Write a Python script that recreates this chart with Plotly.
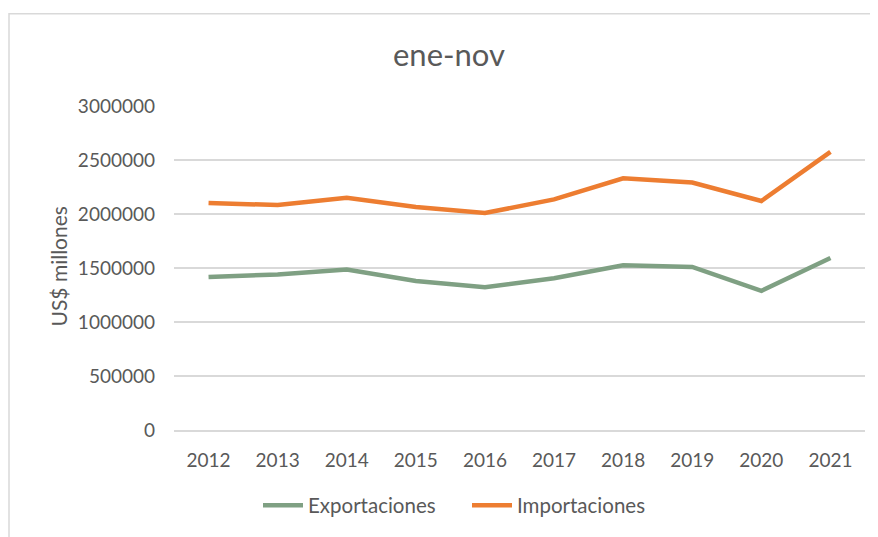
import plotly.graph_objects as go

years = ["2012", "2013", "2014", "2015", "2016", "2017", "2018", "2019", "2020", "2021"]
exportaciones = [1416000, 1440000, 1485000, 1380000, 1323000, 1405000, 1526000, 1510000, 1288000, 1593000]
importaciones = [2101000, 2083000, 2150000, 2064000, 2009000, 2135000, 2330000, 2292000, 2120000, 2575000]
y_ticks = [0, 500000, 1000000, 1500000, 2000000, 2500000, 3000000]

text_color = "#595959"
font_family = "Lato, 'Open Sans', sans-serif"

# page offset (browser body margin) compensation
OX, OY = 8, 8
W, H = 878 - OX, 537 - OY
L, R_EDGE, T, B = 174 - OX, 865 - OX, 106 - OY, 433 - OY
PW, PH = R_EDGE - L, B - T

def px_x(x):
    return (x - OX - L) / PW

def px_y(y):
    return (B - (y - OY)) / PH

fig = go.Figure()
fig.add_trace(go.Scatter(x=years, y=exportaciones, mode="lines", name="Exportaciones",
                         line=dict(color="#7FA083", width=4.5)))
fig.add_trace(go.Scatter(x=years, y=importaciones, mode="lines", name="Importaciones",
                         line=dict(color="#ED7D31", width=4.5)))

fig.update_layout(
    width=W, height=H,
    paper_bgcolor="white", plot_bgcolor="white",
    margin=dict(l=L, r=W - R_EDGE, t=T, b=H - B),
    font=dict(family=font_family, color=text_color, size=19),
    title=dict(text="ene-nov", x=(449 - OX) / W, xanchor="center", y=1 - (55 - OY) / H, yanchor="middle",
               yref="container", font=dict(size=31, color=text_color, family=font_family)),
    showlegend=True,
    legend=dict(orientation="h", x=px_x(467), xanchor="center", y=px_y(509), yanchor="middle",
                font=dict(size=20.5, color=text_color), itemwidth=40, tracegroupgap=0,
                entrywidth=154, entrywidthmode="pixels",
                bgcolor="rgba(0,0,0,0)"),
    xaxis=dict(type="category", showgrid=False, showline=True, linecolor="#d9d9d9", linewidth=1.5,
               ticks="", tickfont=dict(size=19, color=text_color), ticklabelstandoff=12,
               range=[-0.5, 9.5], zeroline=False),
    yaxis=dict(range=[0, 3000000], tickvals=y_ticks, ticktext=[str(v) for v in y_ticks],
               showgrid=True, gridcolor="#d9d9d9", gridwidth=1.5, zeroline=False, showline=False,
               ticks="", tickfont=dict(size=19, color=text_color), ticklabelstandoff=18),
    shapes=[dict(type="rect", xref="paper", yref="paper",
                 x0=px_x(9), x1=px_x(890), y0=px_y(548), y1=px_y(13),
                 line=dict(color="#d9d9d9", width=1.5), fillcolor="rgba(0,0,0,0)", layer="below")],
    annotations=[dict(text="US$ millones", textangle=-90, xref="paper", yref="paper",
                      x=px_x(59), y=px_y(268), xanchor="center", yanchor="middle",
                      showarrow=False, font=dict(size=21, color=text_color))],
)

fig.write_html("out.html")
